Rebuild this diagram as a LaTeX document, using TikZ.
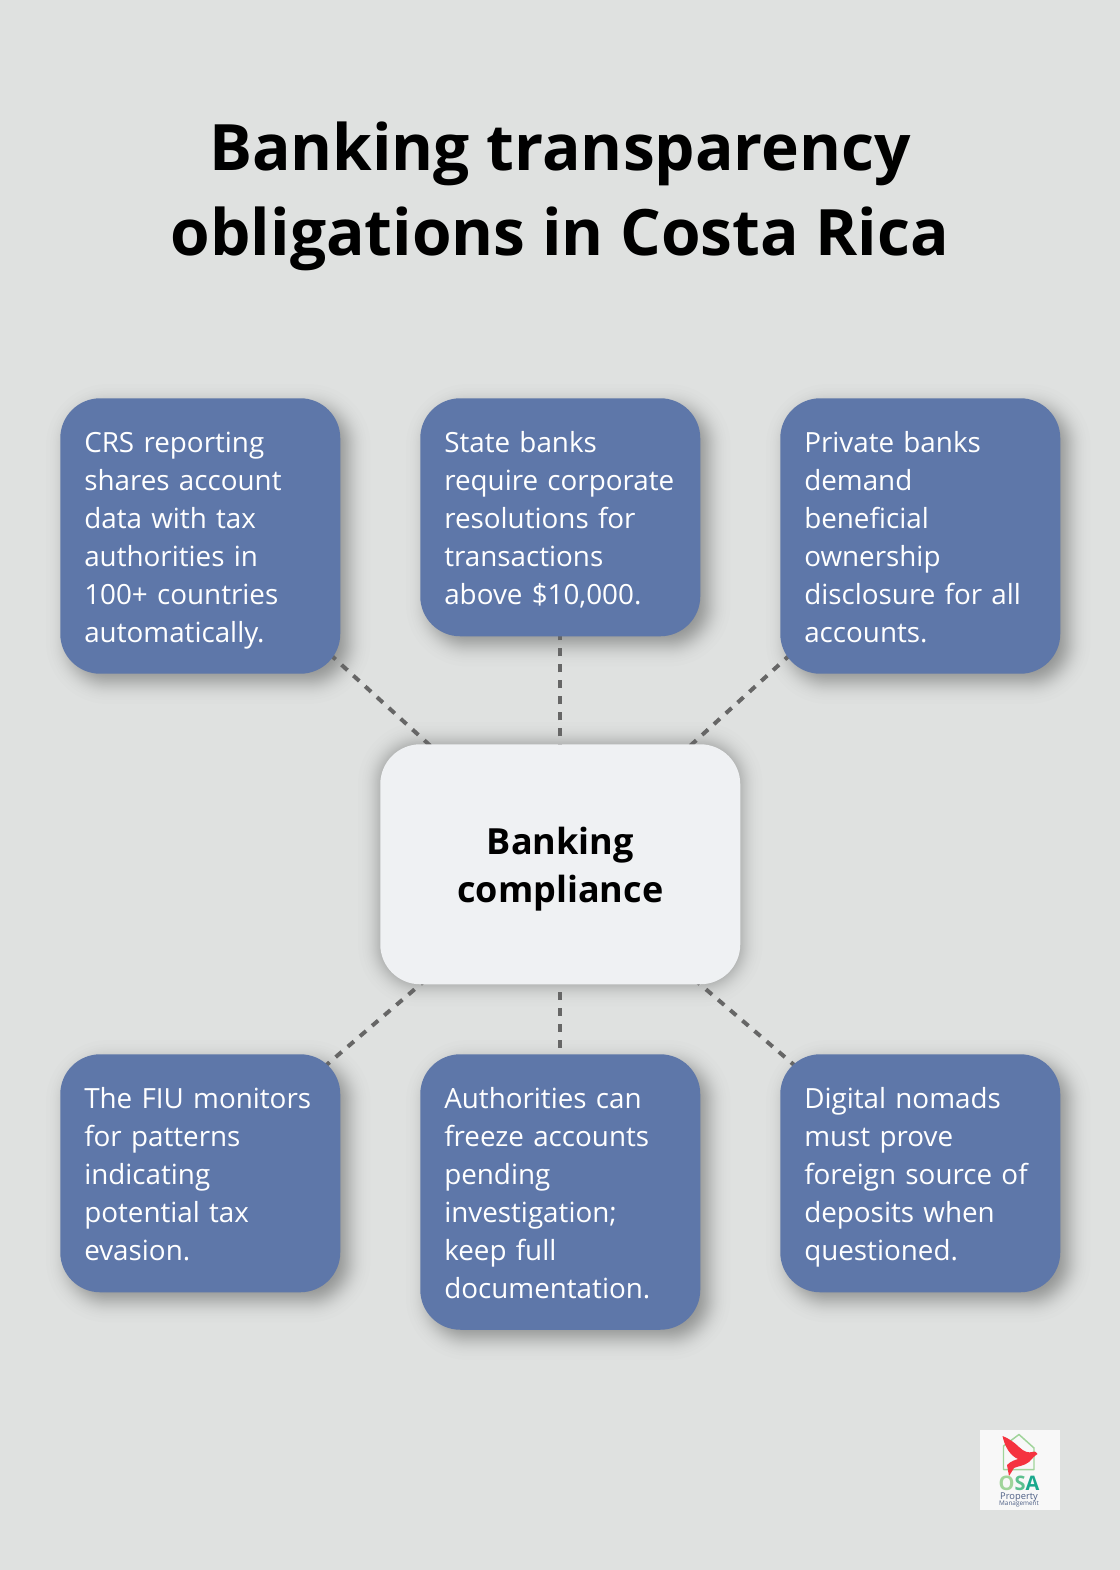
\documentclass[tikz,border=0pt]{standalone}
\usepackage{fontspec}
\setmainfont{Open Sans}
\usetikzlibrary{positioning}
\definecolor{pagegray}{HTML}{DFE1E0}
\definecolor{cardblue}{HTML}{5E77A9}
\definecolor{hubwhite}{HTML}{EFF1F3}
\definecolor{dashgray}{HTML}{666666}
\definecolor{birdred}{HTML}{F5333F}
\definecolor{logowhite}{HTML}{F8F8F8}
\definecolor{logogreen}{HTML}{A0D49A}
\definecolor{logomint}{HTML}{5CC08F}
\definecolor{logoteal}{HTML}{1AA98D}
\definecolor{logoslate}{HTML}{4D5F85}
\pgfdeclarelayer{pagelayer}
\pgfdeclarelayer{shadowlayer}
\pgfdeclarelayer{linelayer}
\pgfsetlayers{pagelayer,shadowlayer,linelayer,main}
\newcommand{\softshadow}[4]{%
    \foreach \s in {-22,-18,-15.5,-13.7,-12.3,-11,-10,-9,-8.2,-7.3,-6.6,-5.8,-5.1,-4.4,-3.7,-3.1,-2.5,-1.8,-1.2,-0.6,0,0.6,1.2,1.8,2.5,3.1,3.7,4.4,5.1,5.8,6.6,7.3,8.2,9,10,11,12.3,13.7,15.5,18,22} {
        \pgfmathsetmacro{\cornerr}{(40+\s)*0.75}
        \fill [black, opacity=#4, rounded corners=\cornerr pt]
            ([shift={(#2-\s,#3-\s)}]#1.north west) rectangle ([shift={(#2+\s,#3+\s)}]#1.south east);
    }
}

\begin{document}
\begin{tikzpicture}[
                x=0.75pt,
                y=-0.75pt,
                cardbox/.style={
                    rectangle,
                    anchor=north west,
                    fill=cardblue,
                    text=white,
                    rounded corners=30pt,
                    inner sep=0pt,
                    minimum width=210pt,
                    text width=174pt,
                    align=left,
                    font=\fontsize{20.85}{28.5}\selectfont,
                    execute at begin node={\rule{0pt}{22.85pt}},
                    execute at end node={\rule[-5.65pt]{0pt}{5.65pt}},
                },
                hubbox/.style={
                    rectangle,
                    anchor=north west,
                    fill=hubwhite,
                    rounded corners=30pt,
                    inner sep=0pt,
                    minimum height=180pt,
                    text width=270pt,
                    align=center,
                    font=\fontsize{27}{36}\selectfont\bfseries,
                    execute at begin node={\rule{0pt}{28.5pt}},
                    execute at end node={\rule[-7.5pt]{0pt}{7.5pt}},
                },
                link/.style={
                    draw=dashgray,
                    line width=3pt,
                    dash pattern=on 6pt off 6pt,
                },
            ]
            \useasboundingbox (0,0) rectangle (1120,1570);

            \node [font=\fontsize{48}{63.75}\selectfont\bfseries, align=center] (title) at (560,196)
                {Banking transparency\\obligations in Costa Rica};

            \node [hubbox] (hub) at (380,744) {Banking\\compliance};

            \node [cardbox, minimum height=206.6pt] (crs) at (60,398)
                {CRS reporting\\shares account\\data with tax\\authorities in\\100+ countries\\automatically.};
            \node [cardbox, minimum height=178.5pt] (state) at (420,398)
                {State banks\\require corporate\\resolutions for\\transactions\\above \$10,000.};
            \node [cardbox, minimum height=206.6pt] (private) at (780,398)
                {Private banks\\demand\\beneficial\\ownership\\disclosure for all\\accounts.};
            \node [cardbox, minimum height=178.5pt] (fiu) at (60,1054)
                {The FIU monitors\\for patterns\\indicating\\potential tax\\evasion.};
            \node [cardbox, minimum height=206.6pt] (freeze) at (420,1054)
                {Authorities can\\freeze accounts\\pending\\investigation;\\keep full\\documentation.};
            \node [cardbox, minimum height=178.5pt] (nomads) at (780,1054)
                {Digital nomads\\must prove\\foreign source of\\deposits when\\questioned.};

            \begin{pgfonlayer}{pagelayer}
                \fill [pagegray] (0,0) rectangle (1120,1570);
            \end{pgfonlayer}

            \begin{pgfonlayer}{shadowlayer}
                \softshadow{hub}{0}{0}{0.006}
                \foreach \card in {crs,state,private,fiu,freeze,nomads} {
                    \softshadow{\card}{8}{8}{0.008}
                }
            \end{pgfonlayer}

            \begin{pgfonlayer}{linelayer}
                \foreach \card in {crs,state,private,fiu,freeze,nomads} {
                    \draw [link] (hub.center) -- (\card.center);
                }
            \end{pgfonlayer}

            % logo
            \node [fill=logowhite, minimum size=60pt, inner sep=0pt, anchor=north west] (logo) at (980,1430) {};
            \draw [draw=logogreen, line width=1.1pt, line join=round]
                (1003.5,1446) -- (1019,1434.5) -- (1034,1448) -- (1034,1469.5) -- (1003.5,1469.5) -- cycle;
            \fill [birdred] (1002.5,1436) .. controls (1008,1438) and (1014,1442) .. (1019,1447)
                .. controls (1024,1452) and (1029,1453) .. (1032,1452)
                .. controls (1035,1451) and (1037,1452) .. (1037.5,1454)
                .. controls (1034,1456) and (1032,1459) .. (1029,1462)
                .. controls (1024,1466) and (1018,1466) .. (1014,1468)
                -- (1009,1476) -- (1007,1465)
                .. controls (1011,1461) and (1015,1460) .. (1018,1459)
                .. controls (1011,1456) and (1005,1448) .. cycle;
            \node [font=\fontsize{15}{15}\selectfont\bfseries, inner sep=0pt] (osa) at (1019,1483)
                {\textcolor{logogreen}{O}\textcolor{logomint}{S}\textcolor{logoteal}{A}};
            \node [font=\fontsize{7}{7}\selectfont, text=logoslate, inner sep=0pt] (property) at (1019,1497) {Property};
            \node [font=\fontsize{4.8}{4.8}\selectfont, text=logoslate, inner sep=0pt] (management) at (1019,1504) {Management};
        \end{tikzpicture}
\end{document}
